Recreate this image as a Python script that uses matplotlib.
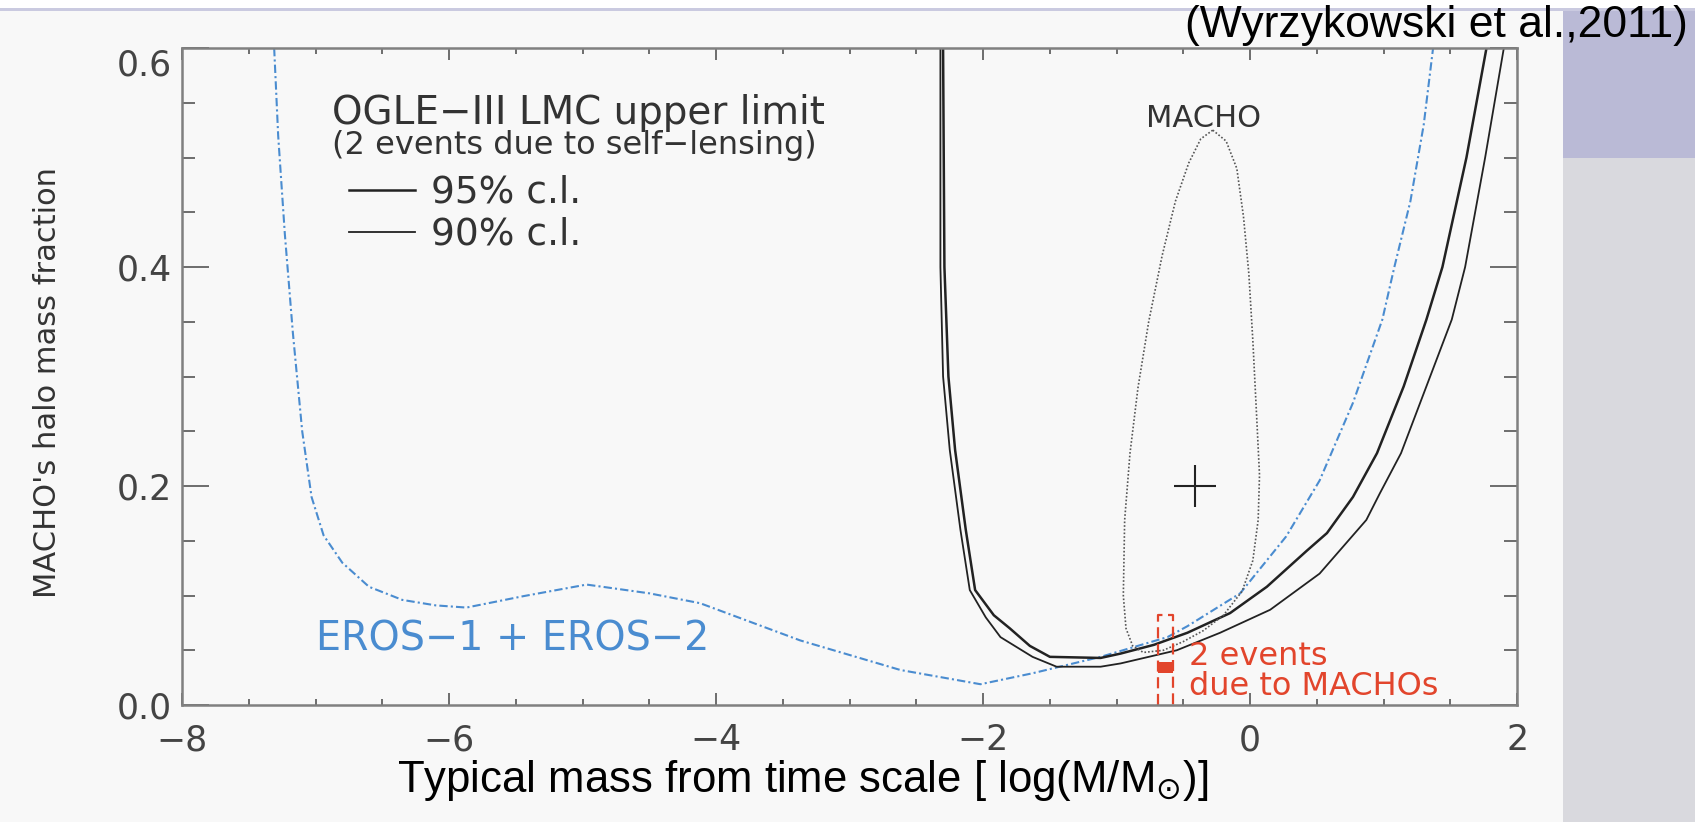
import matplotlib
matplotlib.use('Agg')
import matplotlib.pyplot as plt
from matplotlib.patches import Rectangle
from matplotlib.ticker import MultipleLocator

# ---- data (x = log(M/Msun), y = halo mass fraction) ----
eros_logm = [-7.31, -7.28, -7.23, -7.17, -7.10, -7.03, -6.94, -6.80, -6.60, -6.35,
             -6.10, -5.87, -5.44, -4.97, -4.50, -4.12, -3.37, -2.62, -2.02, -1.63,
             -1.12, -0.62, -0.47, -0.075, 0.27, 0.52, 0.77, 0.99, 1.08, 1.20,
             1.30, 1.37]
eros_frac = [0.60, 0.52, 0.43, 0.34, 0.25, 0.19, 0.155, 0.13, 0.108, 0.096,
             0.091, 0.089, 0.0995, 0.110, 0.102, 0.093, 0.059, 0.032, 0.019, 0.029,
             0.044, 0.062, 0.072, 0.102, 0.154, 0.205, 0.276, 0.352, 0.40, 0.46,
             0.53, 0.60]

ogle95_logm = [-2.30, -2.29, -2.26, -2.21, -2.13, -2.06, -1.92, -1.80, -1.65, -1.50,
               -1.12, -0.97, -0.72, -0.47, -0.15, 0.125, 0.425, 0.575, 0.77, 0.95,
               1.15, 1.32, 1.44, 1.62, 1.77]
ogle95_frac = [0.60, 0.40, 0.30, 0.233, 0.16, 0.105, 0.082, 0.070, 0.054, 0.044,
               0.043, 0.047, 0.055, 0.066, 0.084, 0.108, 0.141, 0.157, 0.190, 0.230,
               0.291, 0.352, 0.40, 0.50, 0.60]

ogle90_logm = [-2.32, -2.32, -2.30, -2.25, -2.17, -2.10, -1.98, -1.87, -1.63, -1.45,
               -1.12, -0.97, -0.55, -0.225, 0.15, 0.52, 0.87, 0.97, 1.13, 1.32,
               1.51, 1.61, 1.76, 1.90]
ogle90_frac = [0.60, 0.40, 0.30, 0.233, 0.16, 0.105, 0.080, 0.062, 0.044, 0.035,
               0.035, 0.038, 0.050, 0.066, 0.087, 0.120, 0.169, 0.193, 0.230, 0.291,
               0.352, 0.40, 0.50, 0.60]

# MACHO 95% contour
macho_logm = [-0.28, -0.18, -0.10, -0.05, -0.01, 0.02, 0.05, 0.07, 0.06, 0.02,
              -0.06, -0.20, -0.35, -0.50, -0.65, -0.80, -0.88, -0.93, -0.95, -0.94,
              -0.90, -0.84, -0.76, -0.66, -0.56, -0.46, -0.37, -0.28]
macho_frac = [0.525, 0.515, 0.490, 0.446, 0.394, 0.333, 0.260, 0.210, 0.169, 0.132,
              0.104, 0.082, 0.068, 0.058, 0.050, 0.048, 0.054, 0.070, 0.100, 0.169,
              0.230, 0.290, 0.350, 0.410, 0.460, 0.495, 0.517, 0.525]
macho_best_logm = [-0.41]
macho_best_frac = [0.20]

# 2 events due to MACHOs
events_logm = [-0.69, -0.58]
events_top = 0.082
events_fill = [0.029, 0.039]

xticks = [-8, -6, -4, -2, 0, 2]
yticks = [0.0, 0.2, 0.4, 0.6]

blue = '#4a8cd0'
red = '#e2452c'
grey_txt = '#333333'

fig = plt.figure(figsize=(16.95, 8.22), dpi=100, facecolor='#f8f8f8')

# slide background bits
fig.patches.append(Rectangle((0, 1 - 8 / 822), 1, 8 / 822, transform=fig.transFigure,
                             facecolor='white', edgecolor='none', zorder=0))
fig.patches.append(Rectangle((0, 1 - 11 / 822), 1, 3 / 822, transform=fig.transFigure,
                             facecolor='#cacae0', edgecolor='none', zorder=0))
fig.patches.append(Rectangle((1563 / 1695, 1 - 158 / 822), 1, 147 / 822, transform=fig.transFigure,
                             facecolor='#babad6', edgecolor='none', zorder=0))
fig.patches.append(Rectangle((1563 / 1695, 0), 1, 1 - 158 / 822, transform=fig.transFigure,
                             facecolor='#d9d9de', edgecolor='none', zorder=0))

ax = fig.add_axes([0.1074, 0.1423, 0.7877, 0.7993])
ax.set_facecolor('#f8f8f8')

ax.plot(eros_logm, eros_frac, color=blue, lw=1.5, dashes=(4, 1.5, 1, 1.5))
l95, = ax.plot(ogle95_logm, ogle95_frac, color='#222222', lw=1.8, label='95% c.l.')
l90, = ax.plot(ogle90_logm, ogle90_frac, color='#222222', lw=1.3, label='90% c.l.')
ax.plot(macho_logm, macho_frac, color='#555555', lw=1.2, linestyle=(0, (1, 1.2)))
ax.plot(macho_best_logm, macho_best_frac, marker='+', color='#222222', ms=30, mew=1.5, ls='none')

ax.plot([events_logm[0], events_logm[0], events_logm[1], events_logm[1]],
        [0, events_top, events_top, 0], color=red, lw=1.6, dashes=(5, 2.5))
ax.fill_between(events_logm, events_fill[0], events_fill[1], color=red, lw=0)

ax.text(-6.876, 0.541, 'OGLE\u2212III LMC upper limit', fontsize=28, color=grey_txt,
        ha='left', va='center')
ax.text(-6.876, 0.511, '(2 events due to self\u2212lensing)', fontsize=23, color=grey_txt,
        ha='left', va='center')
ax.text(-0.35, 0.536, 'MACHO', fontsize=22, color=grey_txt, ha='center', va='center')
ax.text(-7.0, 0.0594, 'EROS\u22121 + EROS\u22122', fontsize=28.5, color=blue, ha='left', va='center')
ax.text(-0.457, 0.044, '2 events', fontsize=23, color=red, ha='left', va='center')
ax.text(-0.457, 0.017, 'due to MACHOs', fontsize=23, color=red, ha='left', va='center')

leg = ax.legend(handles=[l95, l90], loc='upper left', bbox_to_anchor=(0.125, 0.807),
                frameon=False, fontsize=27, handlelength=1.75, handletextpad=0.43,
                labelspacing=0.16, borderpad=0, borderaxespad=0)
for t in leg.get_texts():
    t.set_color(grey_txt)

ax.set_xlim(-8, 2)
ax.set_ylim(0, 0.6)
ax.set_xticks(xticks)
ax.set_xticklabels(['\u2212%d' % abs(v) if v < 0 else '%d' % v for v in xticks])
ax.set_yticks(yticks)
ax.set_yticklabels(['%.1f' % v for v in yticks])
ax.xaxis.set_minor_locator(MultipleLocator(0.5))
ax.yaxis.set_minor_locator(MultipleLocator(0.05))
ax.tick_params(which='both', direction='in', top=True, right=True, color='#555555',
               labelcolor='#444444', width=1.2)
ax.tick_params(axis='x', which='major', length=8.6, pad=13, labelsize=25)
ax.tick_params(axis='x', which='minor', length=4)
ax.tick_params(axis='y', which='major', length=19.4, pad=7, labelsize=25)
ax.tick_params(axis='y', which='minor', length=9.4)
ax.get_yticklabels()[-1].set_verticalalignment('top')
for s in ax.spines.values():
    s.set_color('#808080')
    s.set_linewidth(1.8)

fig.text(48 / 1695, 1 - 382 / 822, "MACHO's halo mass fraction", rotation=90,
         fontsize=22, color=grey_txt, ha='center', va='center')
fig.text(803 / 1695, 1 - 780 / 822, r'Typical mass from time scale [ log(M/M$_{\odot}$)]',
         fontsize=31.5, family='Liberation Sans', color='black', ha='center', va='center')
fig.text(1688 / 1695, 1 - 26 / 822, '(Wyrzykowski et al.,2011)', fontsize=32,
         family='Liberation Sans', color='black', ha='right', va='center')

fig.savefig('out.png', dpi=100, facecolor=fig.get_facecolor())
